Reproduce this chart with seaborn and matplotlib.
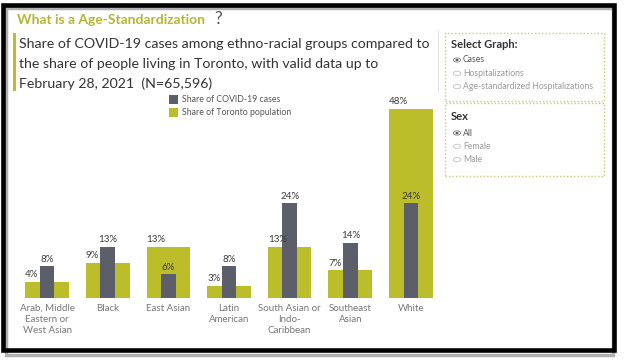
import matplotlib
matplotlib.use("Agg")
import matplotlib.pyplot as plt
import seaborn as sns
import pandas as pd
from matplotlib.patches import Rectangle, Circle

groups = ["Arab, Middle\nEastern or\nWest Asian", "Black", "East Asian", "Latin\nAmerican",
          "South Asian or\nIndo-\nCaribbean", "Southeast\nAsian", "White"]
cases_share = [8, 13, 6, 8, 24, 14, 24]
pop_share = [4, 9, 13, 3, 13, 7, 48]
legend_labels = ["Share of COVID-19 cases", "Share of Toronto population"]
graph_options = ["Cases", "Hospitalizations", "Age-standardized Hospitalizations"]
sex_options = ["All", "Female", "Male"]

OLIVE = "#bcbd2a"
GRAY = "#5c5f69"
TITLE_OLIVE = "#b4b634"

sns.set_theme(style="white")
plt.rcParams["font.family"] = ["Lato", "DejaVu Sans"]

W, H = 624, 360
fig = plt.figure(figsize=(W / 100, H / 100), dpi=100)

def fx(px):
    return px / W

def fy(py):
    return 1 - py / H

df = pd.DataFrame({"group": groups, "cases": cases_share, "pop": pop_share})

# chart axes: category centers at px 47 .. 411, baseline 298, 48% at ~109
ax = fig.add_axes([fx(16.7), fy(298), fx(441.3) - fx(16.7), (298 - 101) / H])
sns.barplot(data=df, x="group", y="pop", color=OLIVE, saturation=1, width=0.72, ax=ax,
            linewidth=0, edgecolor="none")
sns.barplot(data=df, x="group", y="cases", color=GRAY, saturation=1, width=0.245, ax=ax,
            linewidth=0, edgecolor="none")
ax.set_xlim(-0.5, 6.5)
ax.set_ylim(0, 50)
ax.set_xlabel("")
ax.set_ylabel("")
ax.set_yticks([])
ax.tick_params(axis="x", length=0, pad=4, labelsize=7, labelcolor="#777777")
for lab in ax.get_xticklabels():
    lab.set_linespacing(1.35)
for s in ax.spines.values():
    s.set_visible(False)
ax.patch.set_alpha(0)

for i, (c, p) in enumerate(zip(cases_share, pop_share)):
    ax.annotate(f"{p}%", (i - 0.36, p), xytext=(0, 2), textcoords="offset points",
                ha="left", va="bottom", fontsize=7, color="#3a3a3a")
    ax.annotate(f"{c}%", (i, c), xytext=(0, 2), textcoords="offset points",
                ha="center", va="bottom", fontsize=7, color="#3a3a3a")

# title area
fig.text(fx(17), fy(20), "What is a Age-Standardization", fontsize=10, fontweight="bold",
         color=TITLE_OLIVE, va="center", ha="left")
fig.text(fx(214), fy(19), "?", fontsize=12.5, color="#555555", va="center", ha="left")
fig.add_artist(Rectangle((fx(13), fy(91)), fx(3), (91 - 33) / H, transform=fig.transFigure,
                         color=OLIVE, lw=0))
subtitle = ["Share of COVID-19 cases among ethno-racial groups compared to",
            "the share of people living in Toronto, with valid data up to",
            "February 28, 2021  (N=65,596)"]
for k, line in enumerate(subtitle):
    fig.text(fx(19), fy(44 + 20 * k), line, fontsize=10.2, color="#333333", va="center", ha="left")

# legend
for k, (lab, col) in enumerate(zip(legend_labels, [GRAY, OLIVE])):
    y0 = 95 + 13 * k
    fig.add_artist(Rectangle((fx(169), fy(y0 + 9)), fx(9), 9 / H, transform=fig.transFigure,
                             color=col, lw=0))
    fig.text(fx(182), fy(y0 + 4.5), lab, fontsize=6.3, color="#555555", va="center", ha="left")

# faint divider
fig.add_artist(plt.Line2D([fx(438), fx(438)], [fy(30), fy(92)], transform=fig.transFigure,
                          color="#e4e4e4", lw=0.8))

# right panel
def dotted_box(x0, y0, x1, y1):
    fig.add_artist(Rectangle((fx(x0), fy(y1)), fx(x1 - x0), (y1 - y0) / H, transform=fig.transFigure,
                             fill=False, edgecolor="#c9cc6e", lw=1.0, linestyle=(0, (1, 1.5))))

dotted_box(445, 33, 604, 101)
dotted_box(445, 103, 604, 176)

def radio_group(title, options, y_title, y_first):
    fig.text(fx(451), fy(y_title), title, fontsize=8, fontweight="bold", color="#333333",
             va="center", ha="left")
    for k, opt in enumerate(options):
        yy = y_first + 13.3 * k
        sel = k == 0
        fig.add_artist(Circle((fx(457), fy(yy)), 3.6 / W, transform=fig.transFigure,
                              fill=False, edgecolor="#8a8a8a" if sel else "#c8c8c8", lw=0.7))
        if sel:
            fig.add_artist(Circle((fx(457), fy(yy)), 1.6 / W, transform=fig.transFigure,
                                  color="#444444", lw=0))
        fig.text(fx(463), fy(yy), opt, fontsize=6.2, color="#555555" if sel else "#9a9a9a",
                 va="center", ha="left")

radio_group("Select Graph:", graph_options, 44, 60)
radio_group("Sex", sex_options, 117, 133)

# frame and shadow
fig.add_artist(Rectangle((fx(6), fy(355)), fx(613) - fx(6), (355 - 8) / H, transform=fig.transFigure,
                         fill=False, edgecolor="#b0b0b0", lw=2.5))
fig.add_artist(Rectangle((fx(2.5), fy(349.5)), fx(613.5) - fx(2.5), (349.5 - 5) / H,
                         transform=fig.transFigure, fill=False, edgecolor="black", lw=3.3))

fig.savefig("out.png", dpi=100)
